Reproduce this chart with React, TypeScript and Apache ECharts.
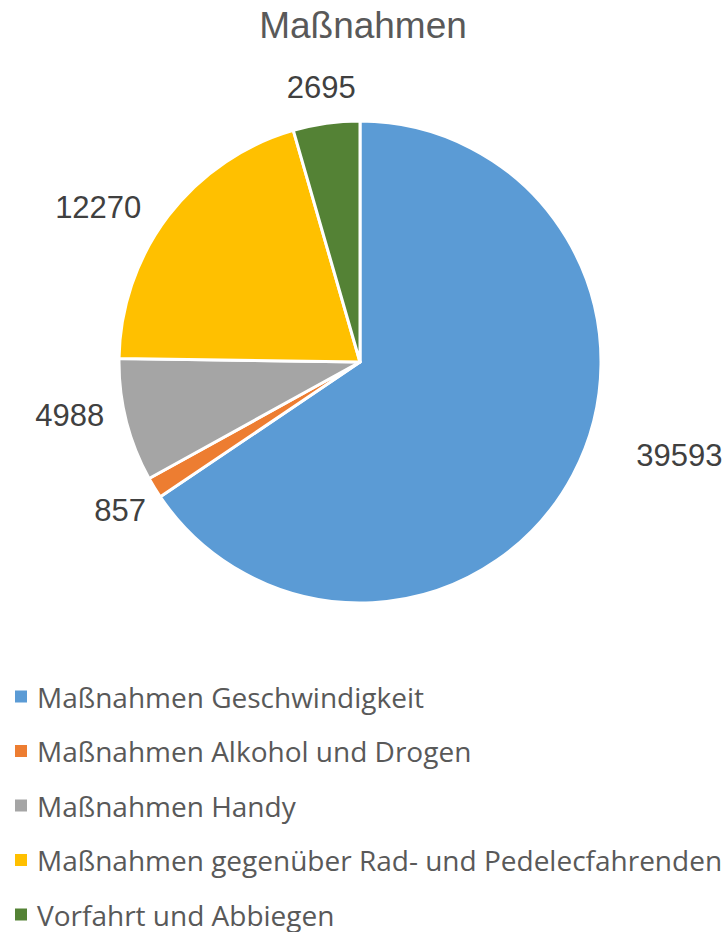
import React, { useEffect, useRef } from "react";
import * as echarts from "echarts";

const titleText = "Maßnahmen";
const categories = [
  "Maßnahmen Geschwindigkeit",
  "Maßnahmen Alkohol und Drogen",
  "Maßnahmen Handy",
  "Maßnahmen gegenüber Rad- und Pedelecfahrenden",
  "Vorfahrt und Abbiegen",
];
const values = [39593, 857, 4988, 12270, 2695];
const colors = ["#5B9BD5", "#ED7D31", "#A5A5A5", "#FFC000", "#548235"];

// label placement tuning (invisible label guides + small vertical nudges)
const labelGuide = [
  { length: 5, length2: 59, dy: -22, align: "" },
  { length: 10, length2: 0, dy: 17, align: "" },
  { length: 4, length2: 18, dy: -6, align: "" },
  { length: 14, length2: 16, dy: 0, align: "" },
  { length: 36, length2: 0, dy: 0, align: "center" },
];

export default function App() {
  const ref = useRef<HTMLDivElement>(null);
  useEffect(() => {
    document.body.style.margin = "0";
    if (!ref.current) return;
    const chart = echarts.init(ref.current, null, { renderer: "svg" });
    chart.setOption({
      animation: false,
      color: colors,
      title: {
        text: titleText,
        left: "center",
        top: 7,
        padding: 0,
        textStyle: {
          fontFamily: "Liberation Sans",
          fontSize: 37,
          fontWeight: "normal",
          color: "#595959",
        },
      },
      legend: {
        orient: "vertical",
        left: 13,
        top: 682.5,
        padding: 0,
        icon: "rect",
        itemWidth: 14,
        itemHeight: 14,
        itemGap: 26.5,
        data: categories,
        textStyle: {
          fontFamily: "Open Sans",
          fontSize: 28,
          lineHeight: 28,
          color: "#595959",
          padding: [0, 0, 0, 4],
        },
      },
      series: [
        {
          type: "pie",
          center: [360, 362],
          radius: 241,
          startAngle: 90,
          clockwise: true,
          avoidLabelOverlap: false,
          itemStyle: { borderColor: "#ffffff", borderWidth: 3 },
          label: {
            show: true,
            position: "outside",
            formatter: "{c}",
            fontFamily: "Liberation Sans",
            fontSize: 31,
            color: "#404040",
            distanceToLabelLine: 0,
          },
          labelLine: { show: false },
          labelLayout: (params: any) => {
            const g = labelGuide[params.dataIndex];
            const out: any = { dy: g.dy };
            if (g.align) out.align = g.align;
            return out;
          },
          emphasis: { disabled: true },
          data: categories.map((name, i) => ({
            name,
            value: values[i],
            labelLine: {
              show: false,
              length: labelGuide[i].length,
              length2: labelGuide[i].length2,
            },
          })),
        },
      ],
    });
    return () => chart.dispose();
  }, []);
  return <div ref={ref} style={{ width: 726, height: 932 }} />;
}
